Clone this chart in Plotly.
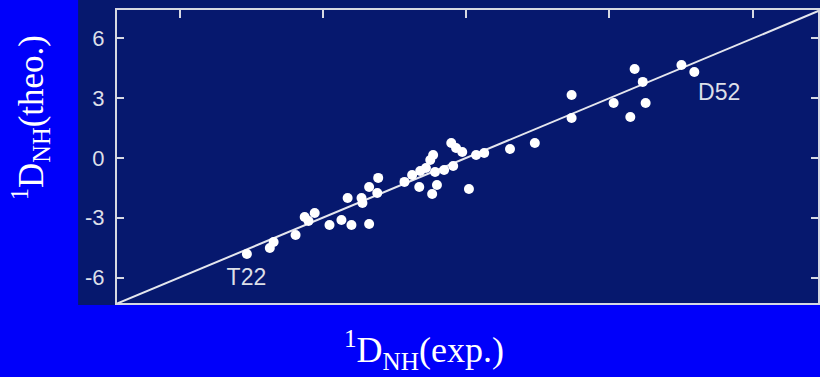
import plotly.graph_objects as go

# Data
d_exp = [-4.59, -4.11, -4.03, -3.57, -3.38, -3.17, -3.30, -2.86, -2.61, -2.40,
         -2.03, -2.48, -2.19, -2.17, -2.03, -1.84, -1.86, -1.29, -1.13, -0.96,
         -0.98, -0.71, -0.61, -0.75, -0.69, -0.65, -0.46, -0.27, -0.31, -0.21,
         -0.08, 0.21, 0.38, 0.06, 0.92, 1.44, 2.21, 2.21, 3.09, 3.44,
         3.76, 3.53, 3.70, 4.51, 4.78, -0.84]
d_theo = [-4.82, -4.52, -4.22, -3.87, -2.96, -2.76, -3.16, -3.36, -3.11, -3.36,
          -3.31, -2.01, -2.01, -2.26, -1.46, -1.00, -1.76, -1.20, -0.85, -0.65,
          -1.46, -1.81, -1.36, -0.10, 0.15, -0.70, -0.60, -0.40, 0.75, 0.50,
          0.30, 0.15, 0.25, -1.56, 0.45, 0.75, 2.01, 3.16, 2.76, 2.06,
          2.76, 4.47, 3.82, 4.67, 4.32, -0.50]
line_vals = [-7.6, 7.6]
y_ticks = [6, 3, 0, -3, -6]
x_ticks = [-6, -3, 0, 3, 6]
labels = ["T22", "D52"]
label_x = [-4.6, 5.3]
label_y = [-6.1, 3.2]

x_range = [-7.31, 7.37]
y_range = [-7.28, 7.43]

PAPER = "#0000fa"
PANEL = "#06186e"
FRAME = "#d6d8e2"
TXT = "#dcdfe8"

fig = go.Figure()
fig.add_trace(go.Scatter(x=line_vals, y=line_vals, mode="lines",
                         line=dict(color="#e4e6ee", width=2), hoverinfo="skip"))
fig.add_trace(go.Scatter(x=d_exp, y=d_theo, mode="markers",
                         marker=dict(color="white", size=10, line=dict(width=0))))
fig.add_trace(go.Scatter(x=label_x, y=label_y, mode="text", text=labels,
                         textfont=dict(family="Liberation Sans", size=23, color=TXT)))

# dark panel behind plot (paper coords relative to plot area)
fig.add_shape(type="rect", xref="paper", yref="paper",
              x0=(78 - 117) / 703, x1=1.01, y0=(303 - 305) / 293, y1=303 / 293,
              fillcolor=PANEL, line=dict(width=0), layer="below")

fig.add_annotation(xref="paper", yref="paper", x=(30 - 117) / 703, y=(303 - 118) / 293,
                   text="<sup>1</sup>D<sub>NH</sub>(theo.)", textangle=-90, showarrow=False,
                   xanchor="center", yanchor="middle",
                   font=dict(family="Liberation Serif", size=35, color="white"))
fig.add_annotation(xref="paper", yref="paper", x=(425 - 117) / 703, y=(303 - 350) / 293,
                   text="<sup>1</sup>D<sub>NH</sub>(exp.)", showarrow=False,
                   xanchor="center", yanchor="middle",
                   font=dict(family="Liberation Serif", size=36, color="white"))

fig.update_layout(
    width=820, height=377,
    margin=dict(l=117, r=0, t=10, b=74),
    paper_bgcolor=PAPER, plot_bgcolor=PANEL,
    showlegend=False,
    xaxis=dict(range=x_range, side="top", tickvals=x_ticks, showticklabels=False,
               ticks="inside", ticklen=8, tickwidth=2, tickcolor=FRAME,
               showline=True, linecolor=FRAME, linewidth=2, mirror=True,
               showgrid=False, zeroline=False),
    yaxis=dict(range=y_range, tickvals=y_ticks, ticktext=[str(v) for v in y_ticks],
               ticks="inside", ticklen=7, tickwidth=2, tickcolor=FRAME,
               showline=True, linecolor=FRAME, linewidth=2, mirror="ticks",
               showgrid=False, zeroline=False, ticklabelstandoff=6,
               tickfont=dict(family="Liberation Sans", size=22, color=TXT)),
)

fig.write_html("out.html", config={"displayModeBar": False},
               post_script="document.body.style.margin='0px';document.body.style.overflow='hidden';")
